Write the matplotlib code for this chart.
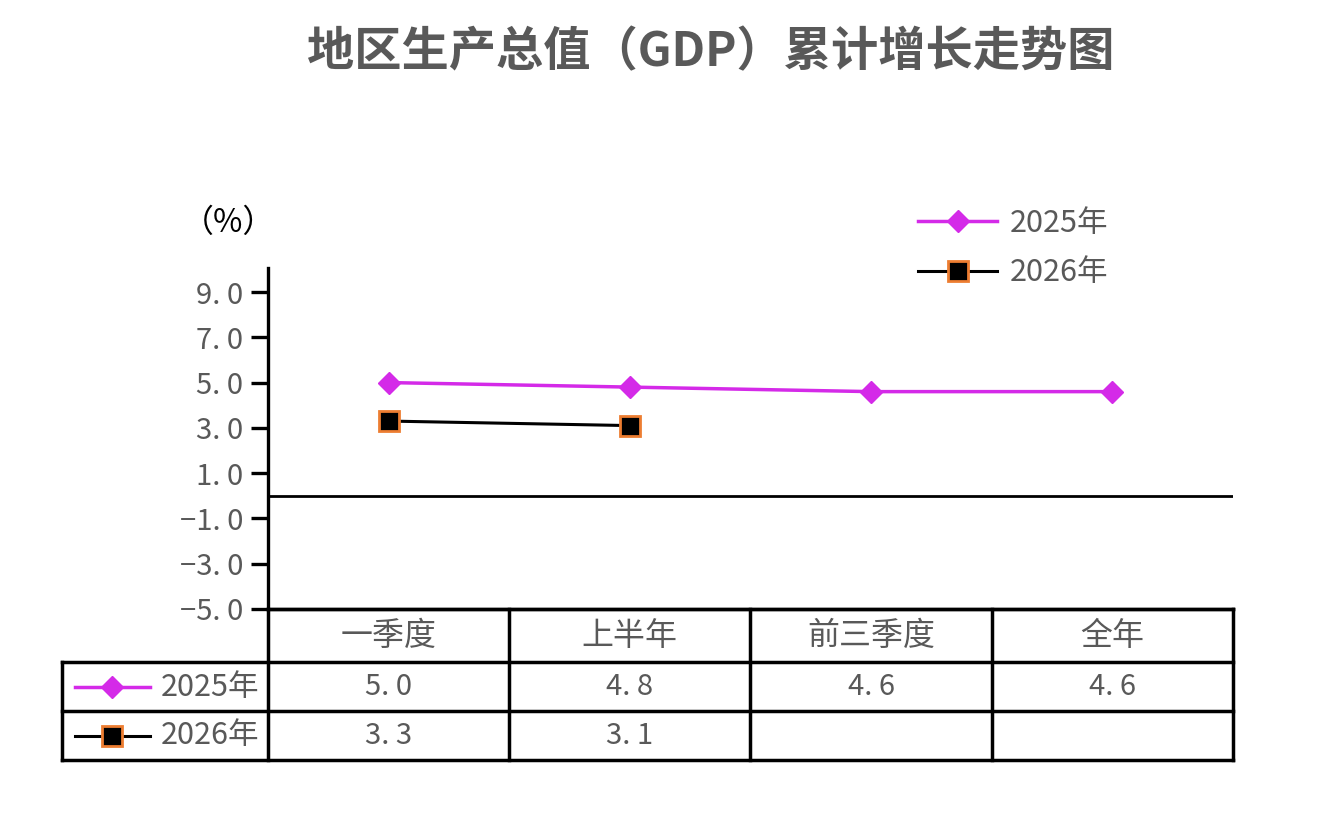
import matplotlib
matplotlib.use('Agg')
import matplotlib.pyplot as plt
import numpy as np
from matplotlib.lines import Line2D

plt.rcParams['font.family'] = ['Noto Sans CJK SC', 'DejaVu Sans']

# ---- data ----
title = '地区生产总值（GDP）累计增长走势图'
categories = ['一季度', '上半年', '前三季度', '全年']
series_names = ['2025年', '2026年']
gdp_2025 = [5.0, 4.8, 4.6, 4.6]
gdp_2026 = [3.3, 3.1, None, None]
yticks = [9.0, 7.0, 5.0, 3.0, 1.0, -1.0, -3.0, -5.0]
unit_label = '（%）'

def fmt(v):
    if v is None:
        return ''
    s = f'{abs(v):.1f}'.replace('.', '. ')
    return ('−' if v < 0 else '') + s

MAGENTA = '#D42AE8'
ORANGE = '#ED7D31'
GRAY = '#595959'
WEIGHT = 'medium'

W, H = 1331, 836
fig = plt.figure(figsize=(W / 100, H / 100), dpi=100)

def fx(px):
    return px / W

def fy(py):
    return 1 - py / H

ax = fig.add_axes([fx(268), fy(609), fx(1233) - fx(268), fy(268) - fy(609)])
x = np.arange(len(categories))
y25 = np.array([np.nan if v is None else v for v in gdp_2025])
y26 = np.array([np.nan if v is None else v for v in gdp_2026])

style25 = dict(color=MAGENTA, lw=2.5, marker='D', markersize=11,
               markerfacecolor=MAGENTA, markeredgecolor=MAGENTA)
style26 = dict(color='black', lw=2.2, marker='s', markersize=14,
               markerfacecolor='black', markeredgecolor=ORANGE, markeredgewidth=2)

ax.plot(x, y25, **style25, clip_on=False, zorder=3)
ax.plot(x, y26, **style26, clip_on=False, zorder=3)
ax.axhline(0, color='black', lw=2.0, zorder=2)

ax.set_xlim(-0.5, 3.5)
ax.set_ylim(-5, 9 + (292 - 268) / ((609 - 292) / 14))
ax.set_xticks([])
ax.set_yticks(yticks)
ax.set_yticklabels([fmt(v) for v in yticks], fontsize=21, color=GRAY, fontweight=WEIGHT)
ax.tick_params(axis='y', length=12, width=2.4, direction='out', pad=6, color='black')
for s in ['top', 'right']:
    ax.spines[s].set_visible(False)
ax.spines['left'].set_linewidth(2.4)
ax.spines['bottom'].set_linewidth(2.4)

fig.text(fx(229), fy(223), unit_label, ha='center', va='center', fontsize=23,
         color='black', fontweight=WEIGHT)

handles = [Line2D([], [], **style25), Line2D([], [], **style26)]
fig.legend(handles, series_names, loc='upper left', bbox_to_anchor=(fx(918), fy(208)),
           frameon=False, handlelength=2.6, handletextpad=0.4,
           labelspacing=0.6, borderpad=0, borderaxespad=0, labelcolor=GRAY,
           prop=dict(size=22, weight=WEIGHT))

fig.text(fx(711), fy(52), title, ha='center', va='center', fontsize=34,
         color=GRAY, fontweight='bold')

# ---- table ----
tax = fig.add_axes([fx(62), fy(760), fx(1233) - fx(62), fy(609) - fy(760)])
colw = (1233 - 268) / 4
def tx(px):
    return -0.5 + (px - 268) / colw
xl = tx(62)
tax.set_xlim(xl, 3.5)
tax.set_ylim(760, 609)
tax.axis('off')
lw = 2.5
for yy in [662, 711, 760]:
    tax.plot([xl, 3.5], [yy, yy], color='black', lw=lw, clip_on=False, solid_capstyle='projecting')
tax.plot([-0.5, 3.5], [609, 609], color='black', lw=lw, clip_on=False)
tax.plot([xl, xl], [662, 760], color='black', lw=lw, clip_on=False, solid_capstyle='projecting')
for b in np.arange(len(categories) + 1) - 0.5:
    tax.plot([b, b], [609, 760], color='black', lw=lw, clip_on=False)

for i, c in enumerate(categories):
    tax.text(i, 636, c, ha='center', va='center', fontsize=23, color=GRAY, fontweight=WEIGHT)

rows = [(series_names[0], gdp_2025, style25, 687), (series_names[1], gdp_2026, style26, 736)]
for name, vals, st, yc in rows:
    st2 = dict(st)
    st2['markevery'] = [1]
    tax.plot([tx(75), tx(112), tx(150)], [yc, yc, yc], **st2, clip_on=False)
    tax.text(tx(161), yc, name, ha='left', va='center', fontsize=22, color=GRAY, fontweight=WEIGHT)
    for i, v in enumerate(vals):
        tax.text(i, yc, fmt(v), ha='center', va='center', fontsize=21, color=GRAY, fontweight=WEIGHT)

fig.savefig('out.png', dpi=100)
